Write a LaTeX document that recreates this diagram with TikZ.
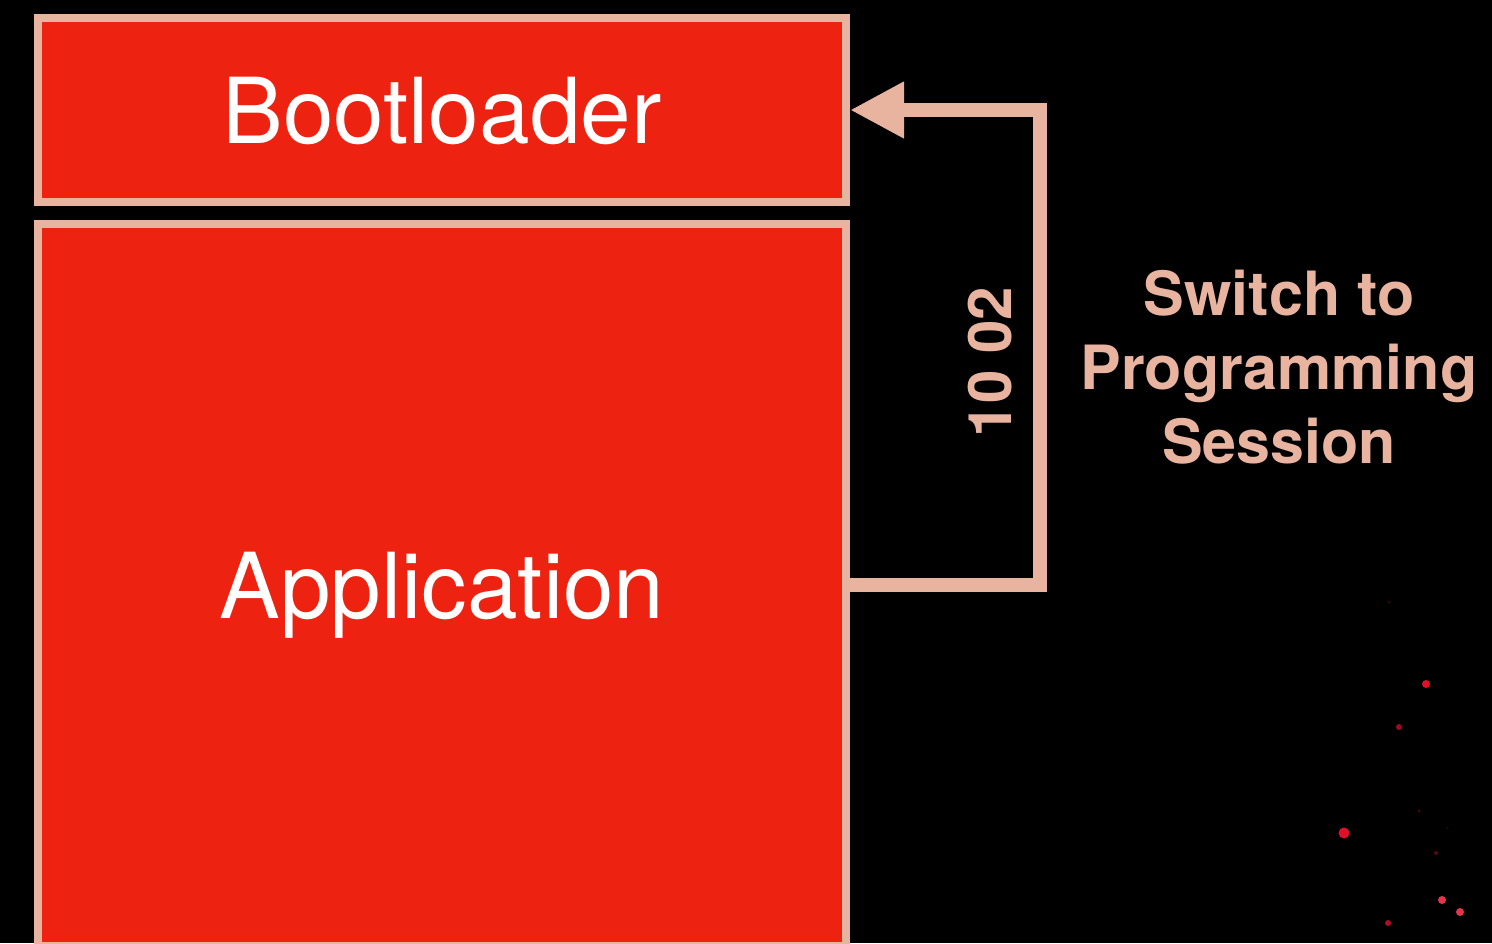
\documentclass[tikz,border=0pt]{standalone}
\usepackage{fontspec}
\setmainfont{TeX Gyre Heros}
\usetikzlibrary{arrows.meta}
\definecolor{memred}{HTML}{EE2210}
\definecolor{peach}{HTML}{E8B4A0}
\definecolor{spark}{HTML}{E0102A}
\tikzset{
  membox/.style={draw=peach, fill=memred, line width=8pt, minimum width=808pt,
    inner sep=0pt, text=white, text depth=0pt, font=\fontsize{91}{91}\selectfont},
  conn/.style={draw=peach, line width=14pt, line join=miter,
    -{Triangle[length=54pt, width=53pt]}},
  annot/.style={text=peach, font=\bfseries\fontsize{61}{74}\selectfont, align=center},
  dot/.style={fill=spark, draw=none, circle, inner sep=0pt}
}
\begin{document}
\begin{tikzpicture}[x=1pt, y=-1pt]
  % canvas
  \fill[black] (0,0) rectangle (1492,943);
  \useasboundingbox (0,0) rectangle (1492,943);

  % memory regions
  \node[membox, minimum height=184pt] (boot) at (442,110) {Bootloader};
  \begin{scope}
    \clip (0,0) rectangle (1492,943);
    \node[membox, minimum height=722pt] (app) at (442,585) {Application};
  \end{scope}

  % jump from application back into the bootloader
  \draw[conn] (app.east) -- ++(190,0) |- (boot.east);

  % service request bytes along the connector
  \node[text=peach, font=\bfseries\fontsize{60}{60}\selectfont, rotate=90] (sid) at (990,362) {10 02};

  % description
  \node[annot] (desc) at (1279,367) {Switch to\\Programming\\Session};

  % scattered sparks
  \node[dot, minimum size=11pt] (s1) at (1344,833) {};
  \node[dot, minimum size=8pt] (s2) at (1426,684) {};
  \node[dot, minimum size=6pt, fill=spark!70!black] (s3) at (1399,727) {};
  \node[dot, minimum size=8pt, fill=spark!85!white] (s4) at (1442,900) {};
  \node[dot, minimum size=8pt, fill=spark!85!white] (s5) at (1460,912) {};
  \node[dot, minimum size=6pt, fill=spark!80!black] (s6) at (1388,923) {};
  \node[dot, minimum size=4pt, fill=spark!40!black] (s7) at (1436,853) {};
  \node[dot, minimum size=3pt, fill=spark!35!black] (s8) at (1419,811) {};
  \node[dot, minimum size=3pt, fill=spark!25!black] (s9) at (1389,602) {};
  \node[dot, minimum size=2pt, fill=spark!25!black] (s10) at (1447,828) {};
\end{tikzpicture}
\end{document}
